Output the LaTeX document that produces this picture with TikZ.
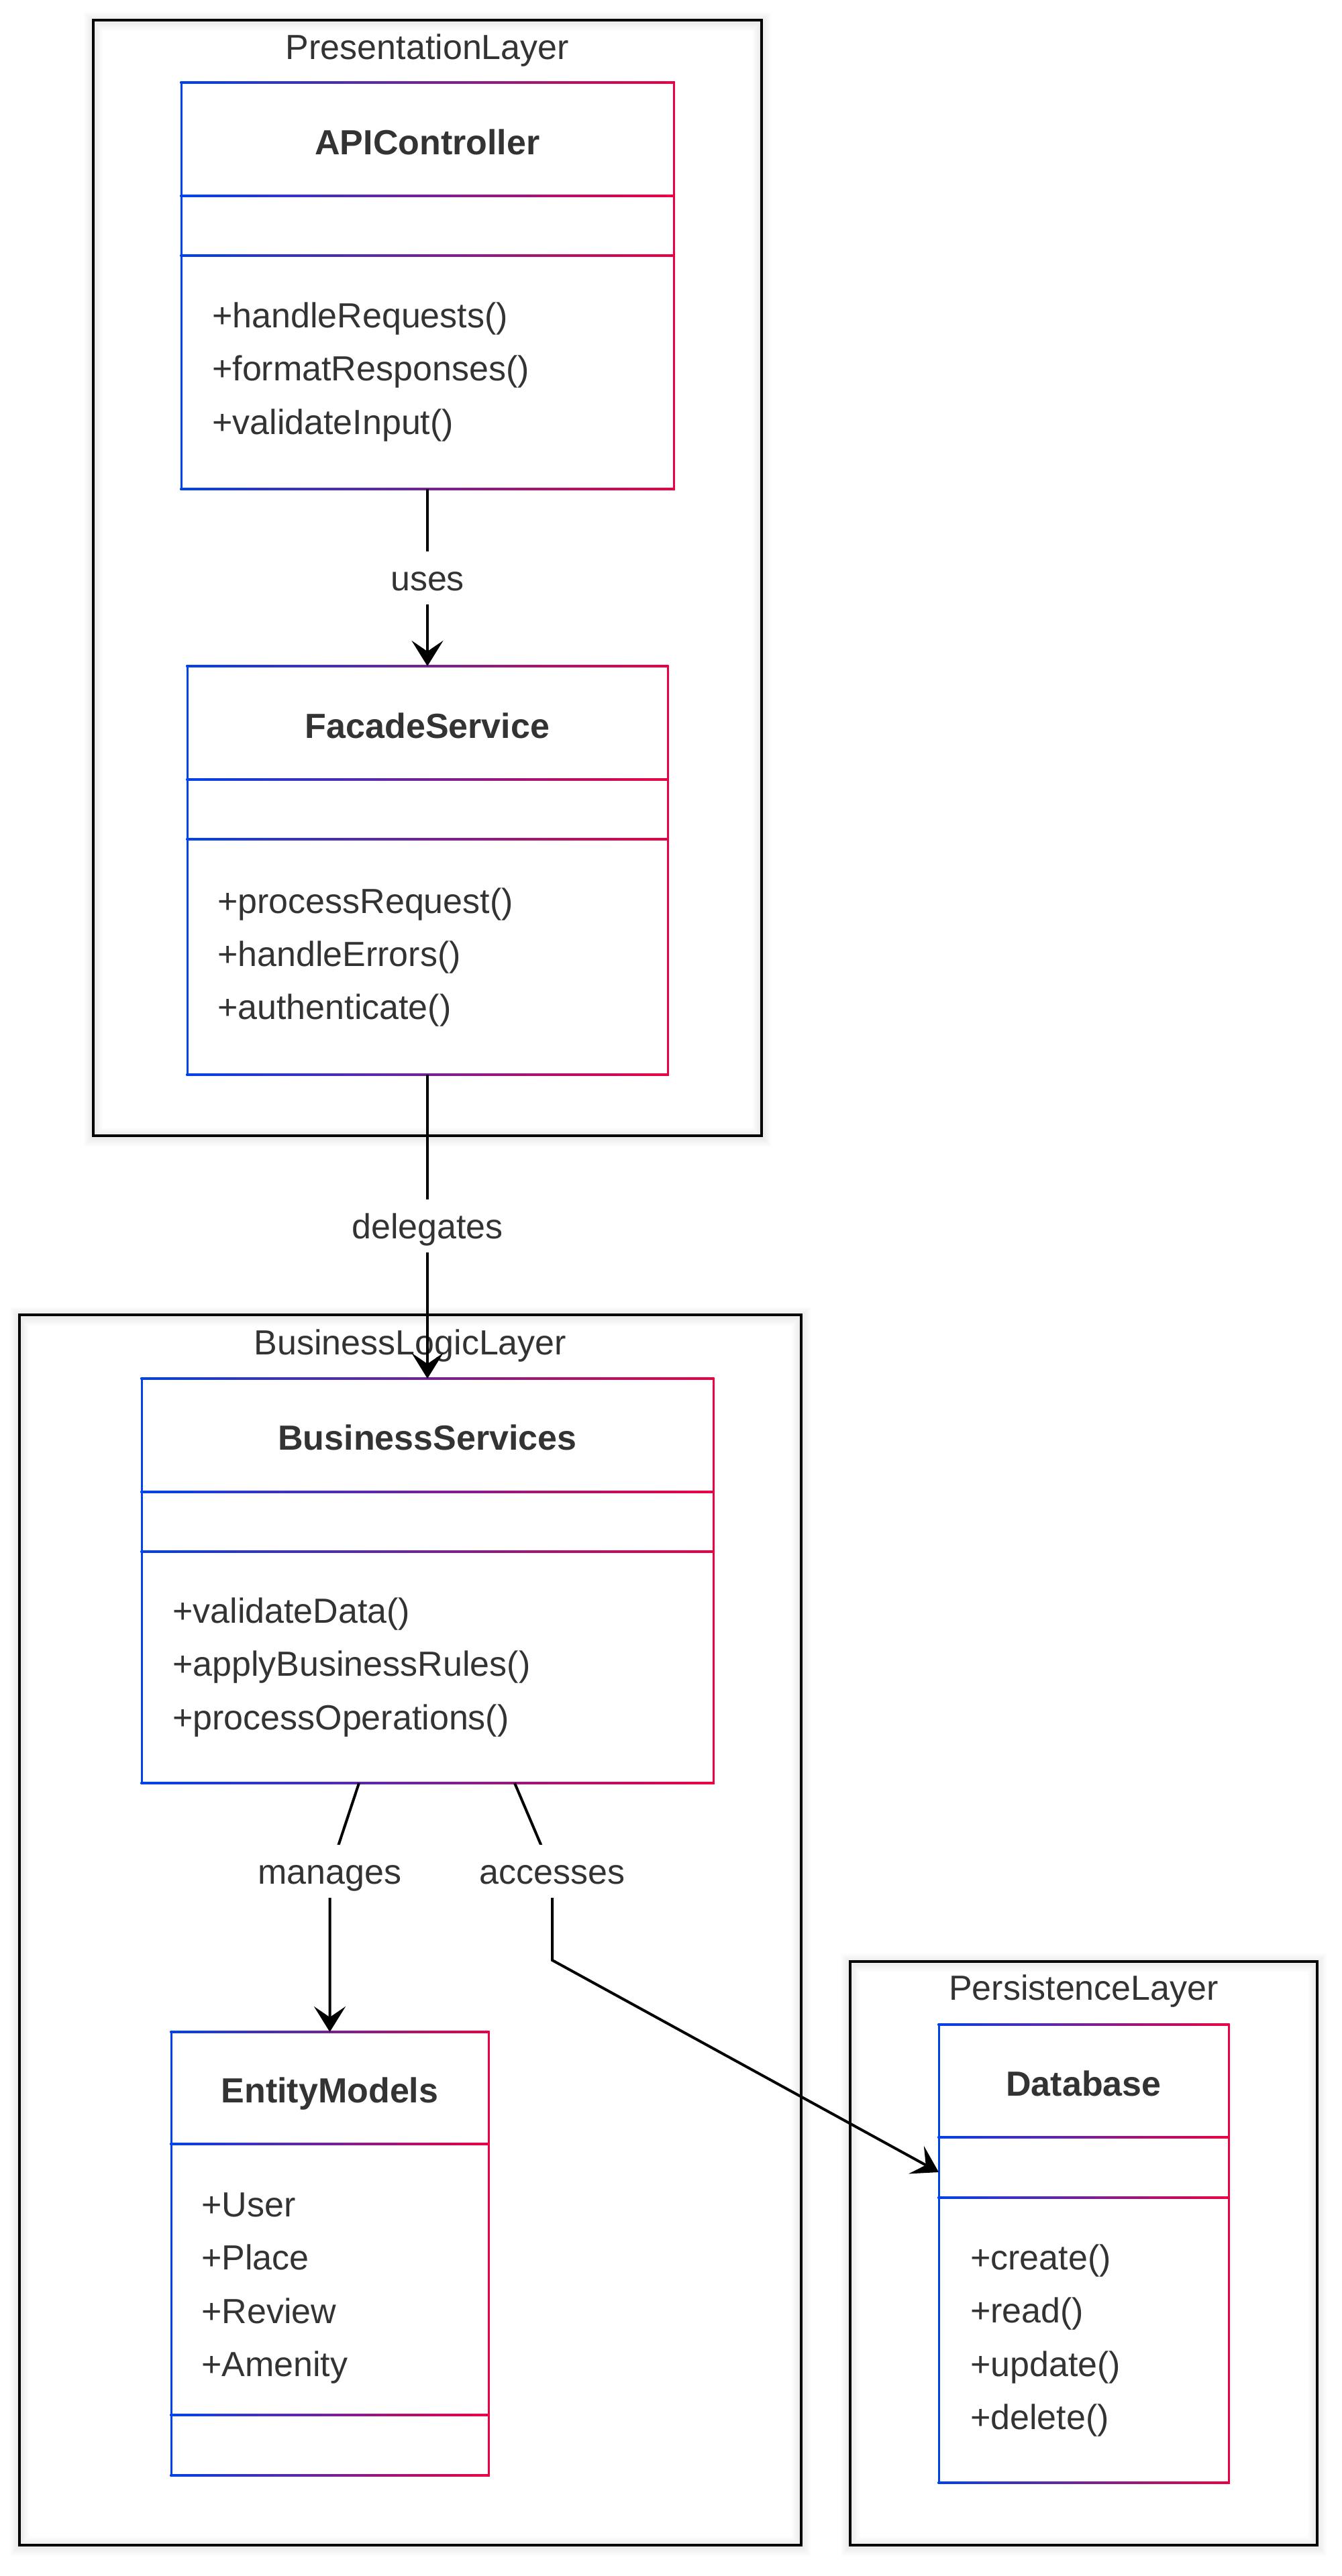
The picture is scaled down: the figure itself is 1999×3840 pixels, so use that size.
\documentclass[tikz,border=0pt]{standalone}
\usepackage{fontspec}
\setmainfont{Liberation Sans}
\usetikzlibrary{arrows.meta,calc}
\definecolor{cblue}{HTML}{0042EB}
\definecolor{cred}{HTML}{EB0042}
\definecolor{ctext}{HTML}{333333}
\newcommand\hgrad[3]{\shade[left color=cblue,right color=cred] (#1-1.5,#3-1.5) rectangle (#2+1.5,#3+1.5);}
\newcommand\umlbox[7]{%
  \node[boxnode, minimum width={(#4)-(#2)}, minimum height={(#5)-(#3)}] (#1) at ({((#2)+(#4))/2},{((#3)+(#5))/2}) {};
  \fill[cblue] (#2-1.5,#3-1.5) rectangle (#2+1.5,#5+1.5);
  \fill[cred] (#4-1.5,#3-1.5) rectangle (#4+1.5,#5+1.5);
  \hgrad{#2}{#4}{#3}\hgrad{#2}{#4}{#5}\hgrad{#2}{#4}{#6}\hgrad{#2}{#4}{#7}}
\newcommand\layerframe[5]{%
  \foreach \w in {8,12,16,20,24,28}{\draw[black, opacity=0.011, line width=\w pt] (#2,#3+2) rectangle (#4,#5+2);}
  \node[framenode, minimum width={(#4)-(#2)}, minimum height={(#5)-(#3)}] (#1) at ({((#2)+(#4))/2},{((#3)+(#5))/2}) {};}
\tikzset{
  boxnode/.style={fill=white, draw=none, inner sep=0pt, outer sep=0pt},
  framenode/.style={draw=black, line width=4pt, inner sep=0pt, outer sep=0pt},
  txt/.style={text=ctext, font=\fontsize{52}{62}\selectfont, inner sep=0pt, text height=43pt, text depth=5.5pt},
  ttl/.style={txt, font=\fontsize{52}{62}\selectfont\bfseries},
  mem/.style={txt, anchor=west},
  lbl/.style={txt, fill=white, inner ysep=15pt, inner xsep=4pt},
  conn/.style={draw=black, line width=4pt, -{Stealth[length=38pt,width=47pt,inset=16pt]}}
}
\begin{document}
\begin{tikzpicture}[x=1pt,y=-1pt]
\fill[white] (0,0) rectangle (1999,3840);
\useasboundingbox (0,0) rectangle (1999,3840);

% layer frames
\layerframe{PL}{139}{30}{1135}{1693}
\node[txt] (PLt) at (637,70) {PresentationLayer};
\layerframe{BLL}{29}{1960}{1194}{3794}
\node[txt] (BLLt) at (611.5,2001) {BusinessLogicLayer};
\layerframe{PerL}{1267}{2924}{1963}{3794}
\node[txt] (PerLt) at (1615,2963) {PersistenceLayer};

% APIController
\umlbox{API}{270}{123}{1004}{729}{292}{381}
\node[ttl] (APIt) at (637,212) {APIController};
\node[mem] (API1) at (316,470) {+handleRequests()};
\node[mem] (API2) at (316,549) {+formatResponses()};
\node[mem] (API3) at (316,629) {+validateInput()};

% FacadeService
\umlbox{FS}{279}{993}{995}{1602}{1162}{1251}
\node[ttl] (FSt) at (637,1082) {FacadeService};
\node[mem] (FS1) at (324,1343) {+processRequest()};
\node[mem] (FS2) at (324,1422) {+handleErrors()};
\node[mem] (FS3) at (324,1501) {+authenticate()};

% BusinessServices
\umlbox{BS}{211}{2055}{1063}{2658}{2224}{2313}
\node[ttl] (BSt) at (637,2143) {BusinessServices};
\node[mem] (BS1) at (257,2401) {+validateData()};
\node[mem] (BS2) at (257,2480) {+applyBusinessRules()};
\node[mem] (BS3) at (257,2560) {+processOperations()};

% EntityModels
\umlbox{EM}{255}{3029}{728}{3690}{3196}{3600}
\node[ttl] (EMt) at (491.5,3116) {EntityModels};
\node[mem] (EM1) at (300,3286) {+User};
\node[mem] (EM2) at (300,3365) {+Place};
\node[mem] (EM3) at (300,3445) {+Review};
\node[mem] (EM4) at (300,3524) {+Amenity};

% Database
\umlbox{DB}{1399}{3018}{1831}{3701}{3186}{3276}
\node[ttl] (DBt) at (1615,3106) {Database};
\node[mem] (DB1) at (1446,3365) {+create()};
\node[mem] (DB2) at (1446,3444) {+read()};
\node[mem] (DB3) at (1446,3524) {+update()};
\node[mem] (DB4) at (1446,3603) {+delete()};

% connectors
\coordinate (lu) at (637,861.5);
\coordinate (ld) at (637,1827.5);
\coordinate (lm) at (491.5,2789.5);
\coordinate (la) at (823,2789.5);
\coordinate (ac) at (823,2922);
\draw[conn] (API.south) -- (lu) -- (FS.north);
\draw[conn] (FS.south) -- (ld) -- (BS.north);
\draw[conn] ($(BS.south)+(-102,0)$) -- (lm) -- (EM.north);
\draw[conn] ($(BS.south)+(130,0)$) -- (la) -- (ac) -- ($(DB.west)+(0,-121.5)$);

% labels
\node[lbl] (uses) at (lu) {uses};
\node[lbl] (delegates) at (ld) {delegates};
\node[lbl] (manages) at (lm) {manages};
\node[lbl] (accesses) at (la) {accesses};
\end{tikzpicture}
\end{document}
